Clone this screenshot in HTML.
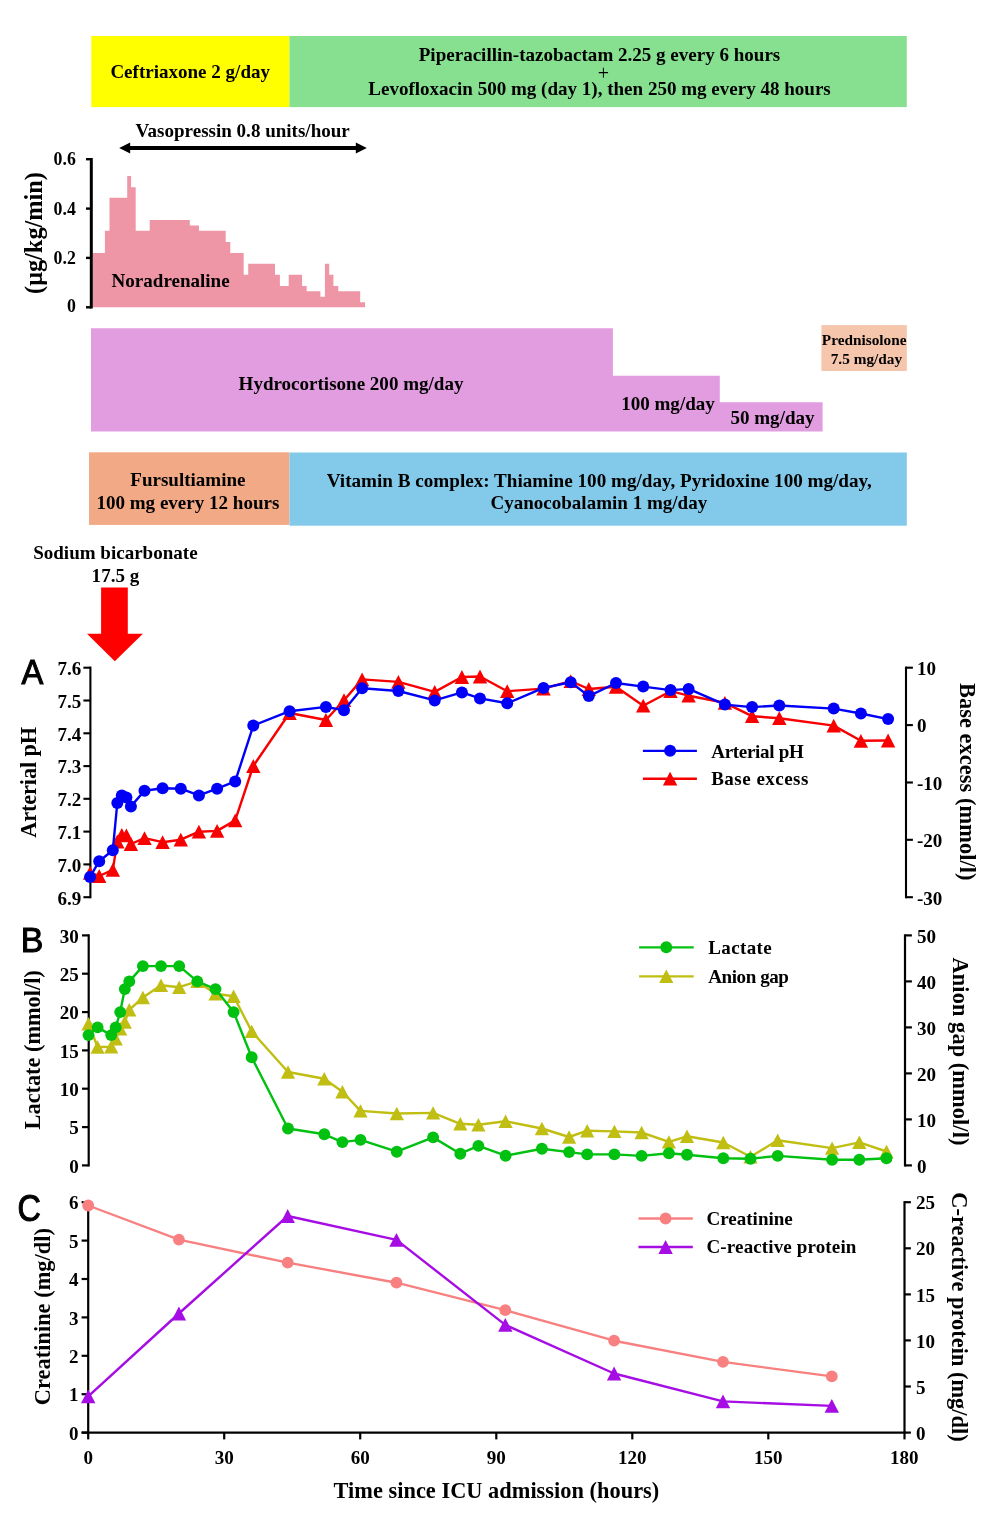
<!DOCTYPE html>
<html lang="en">
<head>
<meta charset="utf-8">
<title>Clinical course figure</title>
<style>
html,body{margin:0;padding:0;background:#fff;}
body{width:986px;height:1513px;overflow:hidden;}
svg{display:block;}
svg text{font-family:"Liberation Serif", "Times New Roman", Times, serif;font-weight:bold;fill:#000;}
svg text.pl{font-family:"Liberation Sans", Arial, Helvetica, sans-serif;font-weight:normal;stroke:#000;stroke-width:1px;}
svg text.n{font-weight:normal;}
</style>
</head>
<body>
<svg width="986" height="1513" viewBox="0 0 986 1513">
<rect x="0" y="0" width="986" height="1513" fill="#fff"/>
<rect x="91.3" y="36" width="198.2" height="71.1" fill="#ffff00"/>
<rect x="289.5" y="36" width="617.3" height="71.1" fill="#86e090"/>
<text x="190.2" y="77.7" font-size="19.05" text-anchor="middle" >Ceftriaxone 2 g/day</text>
<text x="599.5" y="61.2" font-size="19.05" text-anchor="middle" >Piperacillin-tazobactam 2.25 g every 6 hours</text>
<text x="603.3" y="79.5" font-size="20" text-anchor="middle" class="n">+</text>
<text x="599.5" y="94.7" font-size="19.05" text-anchor="middle" >Levofloxacin 500 mg (day 1), then 250 mg every 48 hours</text>
<text x="135.6" y="137.3" font-size="19.05" text-anchor="start" >Vasopressin 0.8 units/hour</text>
<line x1="128" y1="148.0" x2="358" y2="148.0" stroke="#000" stroke-width="4"/>
<polygon points="119.2,148.0 130.2,142.4 130.2,153.6" fill="#000"/>
<polygon points="366.8,148.0 355.8,142.4 355.8,153.6" fill="#000"/>
<path d="M92.8,307.3 L92.8,253.0 L104.9,253.0 L104.9,230.7 L109.5,230.7 L109.5,197.8 L127.2,197.8 L127.2,175.9 L131.1,175.9 L131.1,187.2 L135.7,187.2 L135.7,230.7 L149.7,230.7 L149.7,220.0 L189.8,220.0 L189.8,225.5 L199.0,225.5 L199.0,230.7 L225.7,230.7 L225.7,241.9 L230.3,241.9 L230.3,252.9 L243.7,252.9 L243.7,274.8 L248.2,274.8 L248.2,263.8 L275.0,263.8 L275.0,274.8 L279.9,274.8 L279.9,286.0 L288.7,286.0 L288.7,274.8 L302.1,274.8 L302.1,286.0 L306.7,286.0 L306.7,291.2 L320.4,291.2 L320.4,296.7 L324.9,296.7 L324.9,263.8 L329.2,263.8 L329.2,274.8 L333.4,274.8 L333.4,286.0 L338.3,286.0 L338.3,291.2 L360.2,291.2 L360.2,302.2 L365.1,302.2 L365.1,307.3 Z" fill="#ee96a6"/>
<line x1="91.3" y1="158" x2="91.3" y2="308.5" stroke="#000" stroke-width="3"/>
<line x1="86" y1="159.2" x2="91.3" y2="159.2" stroke="#000" stroke-width="2.4"/>
<text x="75.8" y="165.1" font-size="17.8" text-anchor="end" >0.6</text>
<line x1="86" y1="208.6" x2="91.3" y2="208.6" stroke="#000" stroke-width="2.4"/>
<text x="75.8" y="214.5" font-size="17.8" text-anchor="end" >0.4</text>
<line x1="86" y1="257.9" x2="91.3" y2="257.9" stroke="#000" stroke-width="2.4"/>
<text x="75.8" y="263.79999999999995" font-size="17.8" text-anchor="end" >0.2</text>
<line x1="86" y1="307.3" x2="91.3" y2="307.3" stroke="#000" stroke-width="2.4"/>
<text x="75.8" y="312.2" font-size="17.8" text-anchor="end" >0</text>
<text transform="translate(41.9 233) rotate(-90)" font-size="24.3" text-anchor="middle">(μg/kg/min)</text>
<text x="111.6" y="286.8" font-size="19.05" text-anchor="start" >Noradrenaline</text>
<path d="M91,328.3 H612.9 V375.8 H719.8 V402.2 H822.6 V431.4 H91 Z" fill="#e29de0"/>
<rect x="821.4" y="325.1" width="85.4" height="45.9" fill="#f5c5ac"/>
<text x="351" y="389.5" font-size="19.05" text-anchor="middle" >Hydrocortisone 200 mg/day</text>
<text x="668" y="409.9" font-size="19.05" text-anchor="middle" >100 mg/day</text>
<text x="772.5" y="424" font-size="19.05" text-anchor="middle" >50 mg/day</text>
<text x="864.2" y="344.5" font-size="15.3" text-anchor="middle" >Prednisolone</text>
<text x="866.4" y="363.7" font-size="15.3" text-anchor="middle" >7.5 mg/day</text>
<rect x="89" y="452.3" width="200.5" height="72.6" fill="#f2a985"/>
<rect x="289.5" y="452.5" width="617.3" height="73.2" fill="#83c9ea"/>
<text x="187.9" y="486" font-size="19.05" text-anchor="middle" >Fursultiamine</text>
<text x="187.9" y="508.6" font-size="19.05" text-anchor="middle" >100 mg every 12 hours</text>
<text x="599.3" y="487.2" font-size="19.14" text-anchor="middle" >Vitamin B complex: Thiamine 100 mg/day, Pyridoxine 100 mg/day,</text>
<text x="598.8" y="509" font-size="19.05" text-anchor="middle" >Cyanocobalamin 1 mg/day</text>
<text x="115.4" y="559" font-size="19.05" text-anchor="middle" >Sodium bicarbonate</text>
<text x="115.4" y="581.5" font-size="19.05" text-anchor="middle" >17.5 g</text>
<polygon points="101.1,587.6 127.8,587.6 127.8,633.7 142.9,633.7 114.8,661.2 87,633.7 101.1,633.7" fill="#ff0000"/>
<line x1="90.4" y1="666.6" x2="90.4" y2="898.3000000000001" stroke="#000" stroke-width="2.1"/>
<line x1="83.4" y1="667.7" x2="90.4" y2="667.7" stroke="#000" stroke-width="2.1"/>
<text x="81.2" y="675.0" font-size="19.05" text-anchor="end" >7.6</text>
<line x1="83.4" y1="700.5" x2="90.4" y2="700.5" stroke="#000" stroke-width="2.1"/>
<text x="81.2" y="707.7857142857143" font-size="19.05" text-anchor="end" >7.5</text>
<line x1="83.4" y1="733.3" x2="90.4" y2="733.3" stroke="#000" stroke-width="2.1"/>
<text x="81.2" y="740.5714285714286" font-size="19.05" text-anchor="end" >7.4</text>
<line x1="83.4" y1="766.1" x2="90.4" y2="766.1" stroke="#000" stroke-width="2.1"/>
<text x="81.2" y="773.3571428571429" font-size="19.05" text-anchor="end" >7.3</text>
<line x1="83.4" y1="798.8" x2="90.4" y2="798.8" stroke="#000" stroke-width="2.1"/>
<text x="81.2" y="806.1428571428571" font-size="19.05" text-anchor="end" >7.2</text>
<line x1="83.4" y1="831.6" x2="90.4" y2="831.6" stroke="#000" stroke-width="2.1"/>
<text x="81.2" y="838.9285714285714" font-size="19.05" text-anchor="end" >7.1</text>
<line x1="83.4" y1="864.4" x2="90.4" y2="864.4" stroke="#000" stroke-width="2.1"/>
<text x="81.2" y="871.7142857142858" font-size="19.05" text-anchor="end" >7.0</text>
<line x1="83.4" y1="897.2" x2="90.4" y2="897.2" stroke="#000" stroke-width="2.1"/>
<text x="81.2" y="904.5" font-size="19.05" text-anchor="end" >6.9</text>
<line x1="906.0" y1="666.6" x2="906.0" y2="898.3000000000001" stroke="#000" stroke-width="2.1"/>
<line x1="906.0" y1="667.7" x2="912.9" y2="667.7" stroke="#000" stroke-width="2.1"/>
<text x="917" y="675.1" font-size="19.05" text-anchor="start" >10</text>
<line x1="906.0" y1="725.1" x2="912.9" y2="725.1" stroke="#000" stroke-width="2.1"/>
<text x="917" y="732.475" font-size="19.05" text-anchor="start" >0</text>
<line x1="906.0" y1="782.5" x2="912.9" y2="782.5" stroke="#000" stroke-width="2.1"/>
<text x="917" y="789.85" font-size="19.05" text-anchor="start" >-10</text>
<line x1="906.0" y1="839.8" x2="912.9" y2="839.8" stroke="#000" stroke-width="2.1"/>
<text x="917" y="847.225" font-size="19.05" text-anchor="start" >-20</text>
<line x1="906.0" y1="897.2" x2="912.9" y2="897.2" stroke="#000" stroke-width="2.1"/>
<text x="917" y="904.6" font-size="19.05" text-anchor="start" >-30</text>
<text transform="translate(36.4 782.3) rotate(-90)" font-size="22.35" text-anchor="middle" textLength="110.8">Arterial pH</text>
<text transform="translate(960.1 781.7) rotate(90)" font-size="22.35" text-anchor="middle" textLength="197.6">Base excess (mmol/l)</text>
<text transform="translate(21.5 684.3) scale(0.965 1.04)" font-size="33.9" class="pl">A</text>
<polyline points="90.1,872.9 99.2,876.0 112.8,869.9 117.3,841.5 121.8,834.9 126.4,835.4 130.9,844.0 144.5,838.2 162.6,842.2 180.8,839.7 198.9,831.7 217.1,830.9 235.2,820.4 253.3,766.0 289.6,713.0 325.9,720.0 344.0,700.2 362.1,679.4 398.4,681.9 434.7,691.9 461.9,677.0 480.0,676.5 507.2,691.2 543.5,688.6 570.7,681.2 588.8,689.0 616.0,686.8 643.2,705.7 670.5,691.2 688.6,695.7 724.9,702.8 752.1,716.2 779.3,718.2 833.7,725.6 860.9,740.8 888.1,740.5" fill="none" stroke="#f80000" stroke-width="2.4" stroke-linejoin="round"/>
<polygon points="90.1,866.0 97.3,879.8 82.9,879.8" fill="#f80000"/>
<polygon points="99.2,869.1 106.4,882.9 92.0,882.9" fill="#f80000"/>
<polygon points="112.8,863.0 120.0,876.8 105.6,876.8" fill="#f80000"/>
<polygon points="117.3,834.6 124.5,848.4 110.1,848.4" fill="#f80000"/>
<polygon points="121.8,828.0 129.0,841.8 114.6,841.8" fill="#f80000"/>
<polygon points="126.4,828.5 133.6,842.3 119.2,842.3" fill="#f80000"/>
<polygon points="130.9,837.1 138.1,850.9 123.7,850.9" fill="#f80000"/>
<polygon points="144.5,831.3 151.7,845.1 137.3,845.1" fill="#f80000"/>
<polygon points="162.6,835.3 169.8,849.1 155.4,849.1" fill="#f80000"/>
<polygon points="180.8,832.8 188.0,846.6 173.6,846.6" fill="#f80000"/>
<polygon points="198.9,824.8 206.1,838.6 191.7,838.6" fill="#f80000"/>
<polygon points="217.1,824.0 224.3,837.8 209.9,837.8" fill="#f80000"/>
<polygon points="235.2,813.5 242.4,827.3 228.0,827.3" fill="#f80000"/>
<polygon points="253.3,759.1 260.5,772.9 246.1,772.9" fill="#f80000"/>
<polygon points="289.6,706.1 296.8,719.9 282.4,719.9" fill="#f80000"/>
<polygon points="325.9,713.1 333.1,726.9 318.7,726.9" fill="#f80000"/>
<polygon points="344.0,693.3 351.2,707.1 336.8,707.1" fill="#f80000"/>
<polygon points="362.1,672.5 369.3,686.3 354.9,686.3" fill="#f80000"/>
<polygon points="398.4,675.0 405.6,688.8 391.2,688.8" fill="#f80000"/>
<polygon points="434.7,685.0 441.9,698.8 427.5,698.8" fill="#f80000"/>
<polygon points="461.9,670.1 469.1,683.9 454.7,683.9" fill="#f80000"/>
<polygon points="480.0,669.6 487.2,683.4 472.8,683.4" fill="#f80000"/>
<polygon points="507.2,684.3 514.4,698.1 500.0,698.1" fill="#f80000"/>
<polygon points="543.5,681.7 550.7,695.5 536.3,695.5" fill="#f80000"/>
<polygon points="570.7,674.3 577.9,688.1 563.5,688.1" fill="#f80000"/>
<polygon points="588.8,682.1 596.0,695.9 581.6,695.9" fill="#f80000"/>
<polygon points="616.0,679.9 623.2,693.7 608.8,693.7" fill="#f80000"/>
<polygon points="643.2,698.8 650.4,712.6 636.0,712.6" fill="#f80000"/>
<polygon points="670.5,684.3 677.7,698.1 663.3,698.1" fill="#f80000"/>
<polygon points="688.6,688.8 695.8,702.6 681.4,702.6" fill="#f80000"/>
<polygon points="724.9,695.9 732.1,709.7 717.7,709.7" fill="#f80000"/>
<polygon points="752.1,709.3 759.3,723.1 744.9,723.1" fill="#f80000"/>
<polygon points="779.3,711.3 786.5,725.1 772.1,725.1" fill="#f80000"/>
<polygon points="833.7,718.7 840.9,732.5 826.5,732.5" fill="#f80000"/>
<polygon points="860.9,733.9 868.1,747.7 853.7,747.7" fill="#f80000"/>
<polygon points="888.1,733.6 895.3,747.4 880.9,747.4" fill="#f80000"/>
<polyline points="90.1,876.9 99.2,861.2 112.8,850.3 117.3,803.0 121.8,795.4 126.4,797.4 130.9,806.4 144.5,790.7 162.6,788.3 180.8,788.7 198.9,795.4 217.1,788.7 235.2,781.4 253.3,725.6 289.6,711.2 325.9,706.9 344.0,710.2 362.1,688.3 398.4,691.0 434.7,700.4 461.9,692.4 480.0,698.4 507.2,703.3 543.5,687.9 570.7,682.3 588.8,696.1 616.0,683.0 643.2,686.6 670.5,690.1 688.6,688.9 724.9,704.6 752.1,707.1 779.3,705.5 833.7,708.6 860.9,713.5 888.1,719.1" fill="none" stroke="#0000f8" stroke-width="2.4" stroke-linejoin="round"/>
<circle cx="90.1" cy="876.9" r="6" fill="#0000f8"/>
<circle cx="99.2" cy="861.2" r="6" fill="#0000f8"/>
<circle cx="112.8" cy="850.3" r="6" fill="#0000f8"/>
<circle cx="117.3" cy="803.0" r="6" fill="#0000f8"/>
<circle cx="121.8" cy="795.4" r="6" fill="#0000f8"/>
<circle cx="126.4" cy="797.4" r="6" fill="#0000f8"/>
<circle cx="130.9" cy="806.4" r="6" fill="#0000f8"/>
<circle cx="144.5" cy="790.7" r="6" fill="#0000f8"/>
<circle cx="162.6" cy="788.3" r="6" fill="#0000f8"/>
<circle cx="180.8" cy="788.7" r="6" fill="#0000f8"/>
<circle cx="198.9" cy="795.4" r="6" fill="#0000f8"/>
<circle cx="217.1" cy="788.7" r="6" fill="#0000f8"/>
<circle cx="235.2" cy="781.4" r="6" fill="#0000f8"/>
<circle cx="253.3" cy="725.6" r="6" fill="#0000f8"/>
<circle cx="289.6" cy="711.2" r="6" fill="#0000f8"/>
<circle cx="325.9" cy="706.9" r="6" fill="#0000f8"/>
<circle cx="344.0" cy="710.2" r="6" fill="#0000f8"/>
<circle cx="362.1" cy="688.3" r="6" fill="#0000f8"/>
<circle cx="398.4" cy="691.0" r="6" fill="#0000f8"/>
<circle cx="434.7" cy="700.4" r="6" fill="#0000f8"/>
<circle cx="461.9" cy="692.4" r="6" fill="#0000f8"/>
<circle cx="480.0" cy="698.4" r="6" fill="#0000f8"/>
<circle cx="507.2" cy="703.3" r="6" fill="#0000f8"/>
<circle cx="543.5" cy="687.9" r="6" fill="#0000f8"/>
<circle cx="570.7" cy="682.3" r="6" fill="#0000f8"/>
<circle cx="588.8" cy="696.1" r="6" fill="#0000f8"/>
<circle cx="616.0" cy="683.0" r="6" fill="#0000f8"/>
<circle cx="643.2" cy="686.6" r="6" fill="#0000f8"/>
<circle cx="670.5" cy="690.1" r="6" fill="#0000f8"/>
<circle cx="688.6" cy="688.9" r="6" fill="#0000f8"/>
<circle cx="724.9" cy="704.6" r="6" fill="#0000f8"/>
<circle cx="752.1" cy="707.1" r="6" fill="#0000f8"/>
<circle cx="779.3" cy="705.5" r="6" fill="#0000f8"/>
<circle cx="833.7" cy="708.6" r="6" fill="#0000f8"/>
<circle cx="860.9" cy="713.5" r="6" fill="#0000f8"/>
<circle cx="888.1" cy="719.1" r="6" fill="#0000f8"/>
<line x1="642.9" y1="750.8" x2="696.9" y2="750.8" stroke="#0000f8" stroke-width="2.35"/>
<line x1="642.9" y1="778.7" x2="696.9" y2="778.7" stroke="#f80000" stroke-width="2.35"/>
<text x="711.2" y="757.5" font-size="19.05" text-anchor="start" textLength="92.6">Arterial pH</text>
<text x="711.2" y="785.2" font-size="19.05" text-anchor="start" textLength="97.2">Base excess</text>
<circle cx="670.1" cy="750.8" r="6" fill="#0000f8"/>
<polygon points="670.1,771.8 677.3,785.6 662.9,785.6" fill="#f80000"/>
<line x1="88.7" y1="934.3" x2="88.7" y2="1166.5" stroke="#000" stroke-width="2.2"/>
<line x1="82" y1="935.4" x2="88.7" y2="935.4" stroke="#000" stroke-width="2.2"/>
<text x="78.8" y="942.6" font-size="19.05" text-anchor="end" >30</text>
<line x1="82" y1="973.7" x2="88.7" y2="973.7" stroke="#000" stroke-width="2.2"/>
<text x="78.8" y="980.9333333333334" font-size="19.05" text-anchor="end" >25</text>
<line x1="82" y1="1012.1" x2="88.7" y2="1012.1" stroke="#000" stroke-width="2.2"/>
<text x="78.8" y="1019.2666666666668" font-size="19.05" text-anchor="end" >20</text>
<line x1="82" y1="1050.4" x2="88.7" y2="1050.4" stroke="#000" stroke-width="2.2"/>
<text x="78.8" y="1057.6000000000001" font-size="19.05" text-anchor="end" >15</text>
<line x1="82" y1="1088.7" x2="88.7" y2="1088.7" stroke="#000" stroke-width="2.2"/>
<text x="78.8" y="1095.9333333333334" font-size="19.05" text-anchor="end" >10</text>
<line x1="82" y1="1127.1" x2="88.7" y2="1127.1" stroke="#000" stroke-width="2.2"/>
<text x="78.8" y="1134.2666666666667" font-size="19.05" text-anchor="end" >5</text>
<line x1="82" y1="1165.4" x2="88.7" y2="1165.4" stroke="#000" stroke-width="2.2"/>
<text x="78.8" y="1172.6000000000001" font-size="19.05" text-anchor="end" >0</text>
<line x1="905.0" y1="934.3" x2="905.0" y2="1166.5" stroke="#000" stroke-width="2.2"/>
<line x1="905.0" y1="935.4" x2="911.9" y2="935.4" stroke="#000" stroke-width="2.2"/>
<text x="917" y="942.6" font-size="19.05" text-anchor="start" >50</text>
<line x1="905.0" y1="981.4" x2="911.9" y2="981.4" stroke="#000" stroke-width="2.2"/>
<text x="917" y="988.6" font-size="19.05" text-anchor="start" >40</text>
<line x1="905.0" y1="1027.4" x2="911.9" y2="1027.4" stroke="#000" stroke-width="2.2"/>
<text x="917" y="1034.6000000000001" font-size="19.05" text-anchor="start" >30</text>
<line x1="905.0" y1="1073.4" x2="911.9" y2="1073.4" stroke="#000" stroke-width="2.2"/>
<text x="917" y="1080.6000000000001" font-size="19.05" text-anchor="start" >20</text>
<line x1="905.0" y1="1119.4" x2="911.9" y2="1119.4" stroke="#000" stroke-width="2.2"/>
<text x="917" y="1126.6000000000001" font-size="19.05" text-anchor="start" >10</text>
<line x1="905.0" y1="1165.4" x2="911.9" y2="1165.4" stroke="#000" stroke-width="2.2"/>
<text x="917" y="1172.6000000000001" font-size="19.05" text-anchor="start" >0</text>
<text transform="translate(39.7 1049.8) rotate(-90)" font-size="22.35" text-anchor="middle" textLength="159.2">Lactate (mmol/l)</text>
<text transform="translate(953 1051.5) rotate(90)" font-size="22.35" text-anchor="middle" textLength="187.8">Anion gap (mmol/l)</text>
<text transform="translate(20.7 952.4) scale(1.0 1.04)" font-size="33.9" class="pl">B</text>
<polyline points="88.5,1023.8 97.6,1047.0 111.2,1046.8 115.7,1038.8 120.2,1028.7 124.8,1022.0 129.3,1009.8 142.9,997.5 161.0,985.2 179.2,987.2 197.3,981.4 215.5,993.7 233.6,996.2 251.7,1031.4 288.0,1072.0 324.3,1078.7 342.4,1091.7 360.5,1110.9 396.8,1113.5 433.1,1112.9 460.3,1123.8 478.4,1124.7 505.6,1121.3 541.9,1128.5 569.1,1137.0 587.2,1130.7 614.4,1131.4 641.6,1132.5 668.9,1141.9 687.0,1136.3 723.3,1142.5 750.5,1156.8 777.7,1140.3 832.1,1148.1 859.3,1142.3 886.5,1151.5" fill="none" stroke="#c0be12" stroke-width="2.4" stroke-linejoin="round"/>
<polygon points="88.5,1017.1 95.6,1030.5 81.4,1030.5" fill="#c0be12"/>
<polygon points="97.6,1040.3 104.7,1053.7 90.5,1053.7" fill="#c0be12"/>
<polygon points="111.2,1040.1 118.3,1053.5 104.1,1053.5" fill="#c0be12"/>
<polygon points="115.7,1032.1 122.8,1045.5 108.6,1045.5" fill="#c0be12"/>
<polygon points="120.2,1022.0 127.3,1035.4 113.1,1035.4" fill="#c0be12"/>
<polygon points="124.8,1015.3 131.9,1028.7 117.7,1028.7" fill="#c0be12"/>
<polygon points="129.3,1003.1 136.4,1016.5 122.2,1016.5" fill="#c0be12"/>
<polygon points="142.9,990.8 150.0,1004.2 135.8,1004.2" fill="#c0be12"/>
<polygon points="161.0,978.5 168.1,991.9 153.9,991.9" fill="#c0be12"/>
<polygon points="179.2,980.5 186.3,993.9 172.1,993.9" fill="#c0be12"/>
<polygon points="197.3,974.7 204.4,988.1 190.2,988.1" fill="#c0be12"/>
<polygon points="215.5,987.0 222.6,1000.4 208.4,1000.4" fill="#c0be12"/>
<polygon points="233.6,989.5 240.7,1002.9 226.5,1002.9" fill="#c0be12"/>
<polygon points="251.7,1024.7 258.8,1038.1 244.6,1038.1" fill="#c0be12"/>
<polygon points="288.0,1065.3 295.1,1078.7 280.9,1078.7" fill="#c0be12"/>
<polygon points="324.3,1072.0 331.4,1085.4 317.2,1085.4" fill="#c0be12"/>
<polygon points="342.4,1085.0 349.5,1098.4 335.3,1098.4" fill="#c0be12"/>
<polygon points="360.5,1104.2 367.6,1117.6 353.4,1117.6" fill="#c0be12"/>
<polygon points="396.8,1106.8 403.9,1120.2 389.7,1120.2" fill="#c0be12"/>
<polygon points="433.1,1106.2 440.2,1119.6 426.0,1119.6" fill="#c0be12"/>
<polygon points="460.3,1117.1 467.4,1130.5 453.2,1130.5" fill="#c0be12"/>
<polygon points="478.4,1118.0 485.5,1131.4 471.3,1131.4" fill="#c0be12"/>
<polygon points="505.6,1114.6 512.7,1128.0 498.5,1128.0" fill="#c0be12"/>
<polygon points="541.9,1121.8 549.0,1135.2 534.8,1135.2" fill="#c0be12"/>
<polygon points="569.1,1130.3 576.2,1143.7 562.0,1143.7" fill="#c0be12"/>
<polygon points="587.2,1124.0 594.3,1137.4 580.1,1137.4" fill="#c0be12"/>
<polygon points="614.4,1124.7 621.5,1138.1 607.3,1138.1" fill="#c0be12"/>
<polygon points="641.6,1125.8 648.7,1139.2 634.5,1139.2" fill="#c0be12"/>
<polygon points="668.9,1135.2 676.0,1148.6 661.8,1148.6" fill="#c0be12"/>
<polygon points="687.0,1129.6 694.1,1143.0 679.9,1143.0" fill="#c0be12"/>
<polygon points="723.3,1135.8 730.4,1149.2 716.2,1149.2" fill="#c0be12"/>
<polygon points="750.5,1150.1 757.6,1163.5 743.4,1163.5" fill="#c0be12"/>
<polygon points="777.7,1133.6 784.8,1147.0 770.6,1147.0" fill="#c0be12"/>
<polygon points="832.1,1141.4 839.2,1154.8 825.0,1154.8" fill="#c0be12"/>
<polygon points="859.3,1135.6 866.4,1149.0 852.2,1149.0" fill="#c0be12"/>
<polygon points="886.5,1144.8 893.6,1158.2 879.4,1158.2" fill="#c0be12"/>
<polyline points="88.5,1035.1 97.6,1027.4 111.2,1035.1 115.7,1027.4 120.2,1012.1 124.8,989.1 129.3,981.4 142.9,966.1 161.0,966.1 179.2,966.1 197.3,981.4 215.5,989.1 233.6,1012.1 251.7,1057.3 288.0,1128.5 324.3,1134.3 342.4,1142.1 360.5,1139.9 396.8,1151.7 433.1,1137.4 460.3,1153.7 478.4,1145.9 505.6,1155.7 541.9,1148.8 569.1,1152.1 587.2,1154.4 614.4,1154.4 641.6,1155.9 668.9,1153.2 687.0,1154.8 723.3,1158.2 750.5,1158.8 777.7,1155.9 832.1,1159.7 859.3,1159.7 886.5,1158.2" fill="none" stroke="#00c010" stroke-width="2.4" stroke-linejoin="round"/>
<circle cx="88.5" cy="1035.1" r="5.95" fill="#00c010"/>
<circle cx="97.6" cy="1027.4" r="5.95" fill="#00c010"/>
<circle cx="111.2" cy="1035.1" r="5.95" fill="#00c010"/>
<circle cx="115.7" cy="1027.4" r="5.95" fill="#00c010"/>
<circle cx="120.2" cy="1012.1" r="5.95" fill="#00c010"/>
<circle cx="124.8" cy="989.1" r="5.95" fill="#00c010"/>
<circle cx="129.3" cy="981.4" r="5.95" fill="#00c010"/>
<circle cx="142.9" cy="966.1" r="5.95" fill="#00c010"/>
<circle cx="161.0" cy="966.1" r="5.95" fill="#00c010"/>
<circle cx="179.2" cy="966.1" r="5.95" fill="#00c010"/>
<circle cx="197.3" cy="981.4" r="5.95" fill="#00c010"/>
<circle cx="215.5" cy="989.1" r="5.95" fill="#00c010"/>
<circle cx="233.6" cy="1012.1" r="5.95" fill="#00c010"/>
<circle cx="251.7" cy="1057.3" r="5.95" fill="#00c010"/>
<circle cx="288.0" cy="1128.5" r="5.95" fill="#00c010"/>
<circle cx="324.3" cy="1134.3" r="5.95" fill="#00c010"/>
<circle cx="342.4" cy="1142.1" r="5.95" fill="#00c010"/>
<circle cx="360.5" cy="1139.9" r="5.95" fill="#00c010"/>
<circle cx="396.8" cy="1151.7" r="5.95" fill="#00c010"/>
<circle cx="433.1" cy="1137.4" r="5.95" fill="#00c010"/>
<circle cx="460.3" cy="1153.7" r="5.95" fill="#00c010"/>
<circle cx="478.4" cy="1145.9" r="5.95" fill="#00c010"/>
<circle cx="505.6" cy="1155.7" r="5.95" fill="#00c010"/>
<circle cx="541.9" cy="1148.8" r="5.95" fill="#00c010"/>
<circle cx="569.1" cy="1152.1" r="5.95" fill="#00c010"/>
<circle cx="587.2" cy="1154.4" r="5.95" fill="#00c010"/>
<circle cx="614.4" cy="1154.4" r="5.95" fill="#00c010"/>
<circle cx="641.6" cy="1155.9" r="5.95" fill="#00c010"/>
<circle cx="668.9" cy="1153.2" r="5.95" fill="#00c010"/>
<circle cx="687.0" cy="1154.8" r="5.95" fill="#00c010"/>
<circle cx="723.3" cy="1158.2" r="5.95" fill="#00c010"/>
<circle cx="750.5" cy="1158.8" r="5.95" fill="#00c010"/>
<circle cx="777.7" cy="1155.9" r="5.95" fill="#00c010"/>
<circle cx="832.1" cy="1159.7" r="5.95" fill="#00c010"/>
<circle cx="859.3" cy="1159.7" r="5.95" fill="#00c010"/>
<circle cx="886.5" cy="1158.2" r="5.95" fill="#00c010"/>
<line x1="639.1" y1="947.3" x2="693.7" y2="947.3" stroke="#00c010" stroke-width="2.35"/>
<line x1="639.1" y1="976.3" x2="693.7" y2="976.3" stroke="#c0be12" stroke-width="2.35"/>
<text x="708.2" y="954" font-size="19.05" text-anchor="start" textLength="63.5">Lactate</text>
<text x="708.2" y="982.6" font-size="19.05" text-anchor="start" textLength="80.7">Anion gap</text>
<circle cx="666.3" cy="947.3" r="5.95" fill="#00c010"/>
<polygon points="666.3,969.6 673.4,983.0 659.2,983.0" fill="#c0be12"/>
<line x1="88.2" y1="1201.1000000000001" x2="88.2" y2="1439.3999999999999" stroke="#000" stroke-width="2.2"/>
<line x1="81.6" y1="1202.2" x2="88.2" y2="1202.2" stroke="#000" stroke-width="2.2"/>
<text x="78.4" y="1209.4" font-size="19.05" text-anchor="end" >6</text>
<line x1="81.6" y1="1240.6" x2="88.2" y2="1240.6" stroke="#000" stroke-width="2.2"/>
<text x="78.4" y="1247.8" font-size="19.05" text-anchor="end" >5</text>
<line x1="81.6" y1="1279.0" x2="88.2" y2="1279.0" stroke="#000" stroke-width="2.2"/>
<text x="78.4" y="1286.2" font-size="19.05" text-anchor="end" >4</text>
<line x1="81.6" y1="1317.4" x2="88.2" y2="1317.4" stroke="#000" stroke-width="2.2"/>
<text x="78.4" y="1324.6000000000001" font-size="19.05" text-anchor="end" >3</text>
<line x1="81.6" y1="1355.8" x2="88.2" y2="1355.8" stroke="#000" stroke-width="2.2"/>
<text x="78.4" y="1363.0" font-size="19.05" text-anchor="end" >2</text>
<line x1="81.6" y1="1394.2" x2="88.2" y2="1394.2" stroke="#000" stroke-width="2.2"/>
<text x="78.4" y="1401.3999999999999" font-size="19.05" text-anchor="end" >1</text>
<line x1="81.6" y1="1432.6" x2="88.2" y2="1432.6" stroke="#000" stroke-width="2.2"/>
<text x="78.4" y="1439.8" font-size="19.05" text-anchor="end" >0</text>
<line x1="904.5" y1="1201.1000000000001" x2="904.5" y2="1439.3999999999999" stroke="#000" stroke-width="2.2"/>
<line x1="904.5" y1="1202.2" x2="910.9" y2="1202.2" stroke="#000" stroke-width="2.2"/>
<text x="916" y="1209.4" font-size="19.05" text-anchor="start" >25</text>
<line x1="904.5" y1="1248.3" x2="910.9" y2="1248.3" stroke="#000" stroke-width="2.2"/>
<text x="916" y="1255.48" font-size="19.05" text-anchor="start" >20</text>
<line x1="904.5" y1="1294.4" x2="910.9" y2="1294.4" stroke="#000" stroke-width="2.2"/>
<text x="916" y="1301.56" font-size="19.05" text-anchor="start" >15</text>
<line x1="904.5" y1="1340.4" x2="910.9" y2="1340.4" stroke="#000" stroke-width="2.2"/>
<text x="916" y="1347.64" font-size="19.05" text-anchor="start" >10</text>
<line x1="904.5" y1="1386.5" x2="910.9" y2="1386.5" stroke="#000" stroke-width="2.2"/>
<text x="916" y="1393.72" font-size="19.05" text-anchor="start" >5</text>
<line x1="904.5" y1="1432.6" x2="910.9" y2="1432.6" stroke="#000" stroke-width="2.2"/>
<text x="916" y="1439.8" font-size="19.05" text-anchor="start" >0</text>
<line x1="81.6" y1="1432.6" x2="905.6" y2="1432.6" stroke="#000" stroke-width="2.2"/>
<text x="88.2" y="1464.1" font-size="19.05" text-anchor="middle" >0</text>
<line x1="224.2" y1="1432.6" x2="224.2" y2="1439.3999999999999" stroke="#000" stroke-width="2.2"/>
<text x="224.2" y="1464.1" font-size="19.05" text-anchor="middle" >30</text>
<line x1="360.2" y1="1432.6" x2="360.2" y2="1439.3999999999999" stroke="#000" stroke-width="2.2"/>
<text x="360.2" y="1464.1" font-size="19.05" text-anchor="middle" >60</text>
<line x1="496.3" y1="1432.6" x2="496.3" y2="1439.3999999999999" stroke="#000" stroke-width="2.2"/>
<text x="496.3" y="1464.1" font-size="19.05" text-anchor="middle" >90</text>
<line x1="632.3" y1="1432.6" x2="632.3" y2="1439.3999999999999" stroke="#000" stroke-width="2.2"/>
<text x="632.3" y="1464.1" font-size="19.05" text-anchor="middle" >120</text>
<line x1="768.3" y1="1432.6" x2="768.3" y2="1439.3999999999999" stroke="#000" stroke-width="2.2"/>
<text x="768.3" y="1464.1" font-size="19.05" text-anchor="middle" >150</text>
<text x="904.3" y="1464.1" font-size="19.05" text-anchor="middle" >180</text>
<text transform="translate(50.3 1316.6) rotate(-90)" font-size="22.35" text-anchor="middle" textLength="177.2">Creatinine (mg/dl)</text>
<text transform="translate(952 1317) rotate(90)" font-size="22.35" text-anchor="middle" textLength="249.4">C-reactive protein (mg/dl)</text>
<text transform="translate(17.45 1220.55) scale(0.953 1.09)" font-size="33.9" class="pl">C</text>
<polyline points="88.2,1205.5 178.9,1239.7 287.7,1262.6 396.5,1282.7 505.3,1310.2 614.1,1340.7 723.0,1361.9 831.8,1376.4" fill="none" stroke="#f88080" stroke-width="2.4" stroke-linejoin="round"/>
<circle cx="88.2" cy="1205.5" r="5.9" fill="#f88080"/>
<circle cx="178.9" cy="1239.7" r="5.9" fill="#f88080"/>
<circle cx="287.7" cy="1262.6" r="5.9" fill="#f88080"/>
<circle cx="396.5" cy="1282.7" r="5.9" fill="#f88080"/>
<circle cx="505.3" cy="1310.2" r="5.9" fill="#f88080"/>
<circle cx="614.1" cy="1340.7" r="5.9" fill="#f88080"/>
<circle cx="723.0" cy="1361.9" r="5.9" fill="#f88080"/>
<circle cx="831.8" cy="1376.4" r="5.9" fill="#f88080"/>
<polyline points="88.2,1396.3 178.9,1313.5 287.7,1216.0 396.5,1239.9 505.3,1324.9 614.1,1373.5 723.0,1401.4 831.8,1405.9" fill="none" stroke="#a60ce4" stroke-width="2.4" stroke-linejoin="round"/>
<polygon points="88.2,1389.4 95.4,1403.2 81.0,1403.2" fill="#a60ce4"/>
<polygon points="178.9,1306.6 186.1,1320.4 171.7,1320.4" fill="#a60ce4"/>
<polygon points="287.7,1209.1 294.9,1222.9 280.5,1222.9" fill="#a60ce4"/>
<polygon points="396.5,1233.0 403.7,1246.8 389.3,1246.8" fill="#a60ce4"/>
<polygon points="505.3,1318.0 512.5,1331.8 498.1,1331.8" fill="#a60ce4"/>
<polygon points="614.1,1366.6 621.3,1380.4 606.9,1380.4" fill="#a60ce4"/>
<polygon points="723.0,1394.5 730.2,1408.3 715.8,1408.3" fill="#a60ce4"/>
<polygon points="831.8,1399.0 839.0,1412.8 824.6,1412.8" fill="#a60ce4"/>
<line x1="638.5" y1="1218.5" x2="692.8" y2="1218.5" stroke="#f88080" stroke-width="2.35"/>
<line x1="638.5" y1="1247" x2="692.8" y2="1247" stroke="#a60ce4" stroke-width="2.35"/>
<text x="706.5" y="1224.7" font-size="19.05" text-anchor="start" textLength="86.3">Creatinine</text>
<text x="706.5" y="1253" font-size="19.05" text-anchor="start" textLength="149.9">C-reactive protein</text>
<circle cx="665.6" cy="1218.5" r="5.9" fill="#f88080"/>
<polygon points="665.6,1240.1 672.8,1253.9 658.4,1253.9" fill="#a60ce4"/>
<text x="496.4" y="1498.0" font-size="22.35" text-anchor="middle" textLength="325.8">Time since ICU admission (hours)</text>
</svg>
</body>
</html>
